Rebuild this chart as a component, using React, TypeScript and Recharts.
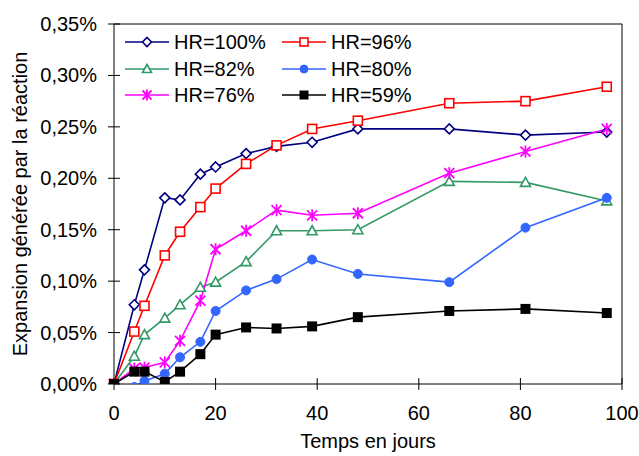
import React from "react"
import { LineChart, Line, XAxis, YAxis, ReferenceLine } from "recharts"

const days = [0, 4, 6, 10, 13, 17, 20, 26, 32, 39, 48, 66, 81, 97]

const hr100 = [0, 0.077, 0.111, 0.181, 0.179, 0.204, 0.211, 0.224, 0.231, 0.235, 0.248, 0.248, 0.242, 0.245]
const hr96 = [0, 0.051, 0.076, 0.125, 0.148, 0.172, 0.19, 0.214, 0.232, 0.248, 0.256, 0.273, 0.275, 0.289]
const hr82 = [0, 0.027, 0.048, 0.064, 0.077, 0.094, 0.099, 0.119, 0.149, 0.149, 0.15, 0.197, 0.196, 0.178]
const hr80 = [0, -0.003, 0.003, 0.01, 0.026, 0.041, 0.071, 0.091, 0.102, 0.121, 0.107, 0.099, 0.152, 0.181]
const hr76 = [0, 0.015, 0.016, 0.021, 0.042, 0.081, 0.131, 0.149, 0.169, 0.164, 0.166, 0.205, 0.226, 0.248]
const hr59 = [0, 0.012, 0.012, 0.002, 0.012, 0.029, 0.048, 0.055, 0.054, 0.056, 0.065, 0.071, 0.073, 0.069]

const xTicks = [0, 20, 40, 60, 80, 100]
const yTicks = [0, 0.05, 0.1, 0.15, 0.2, 0.25, 0.3, 0.35]

type MarkerKind = "diamond" | "square" | "triangle" | "circle" | "star" | "block"

const series: { key: string; name: string; color: string; marker: MarkerKind; values: number[] }[] = [
  { key: "hr100", name: "HR=100%", color: "#000080", marker: "diamond", values: hr100 },
  { key: "hr96", name: "HR=96%", color: "#ff0000", marker: "square", values: hr96 },
  { key: "hr82", name: "HR=82%", color: "#339966", marker: "triangle", values: hr82 },
  { key: "hr80", name: "HR=80%", color: "#3366ff", marker: "circle", values: hr80 },
  { key: "hr76", name: "HR=76%", color: "#ff00ff", marker: "star", values: hr76 },
  { key: "hr59", name: "HR=59%", color: "#000000", marker: "block", values: hr59 },
]

const data = days.map((day, i) => {
  const row: Record<string, number> = { day }
  series.forEach((s) => {
    row[s.key] = s.values[i]
  })
  return row
})

const FONT = "'Liberation Sans', Arial, sans-serif"

function Marker({ kind, cx, cy, color, s = 5 }: { kind: MarkerKind; cx: number; cy: number; color: string; s?: number }) {
  switch (kind) {
    case "diamond":
      return (
        <polygon
          points={`${cx},${cy - s} ${cx + s},${cy} ${cx},${cy + s} ${cx - s},${cy}`}
          fill="#fff"
          stroke={color}
          strokeWidth={1.6}
        />
      )
    case "square":
      return <rect x={cx - s + 0.5} y={cy - s + 0.5} width={2 * s - 1} height={2 * s - 1} fill="#fff" stroke={color} strokeWidth={1.6} />
    case "triangle":
      return (
        <polygon
          points={`${cx},${cy - s} ${cx + s},${cy + s - 1} ${cx - s},${cy + s - 1}`}
          fill="#fff"
          stroke={color}
          strokeWidth={1.6}
        />
      )
    case "circle":
      return <circle cx={cx} cy={cy} r={s - 0.5} fill={color} stroke={color} strokeWidth={1} />
    case "star":
      return (
        <g stroke={color} strokeWidth={1.8}>
          <line x1={cx} y1={cy - s - 1} x2={cx} y2={cy + s + 1} />
          <line x1={cx - s} y1={cy - s} x2={cx + s} y2={cy + s} />
          <line x1={cx - s} y1={cy + s} x2={cx + s} y2={cy - s} />
        </g>
      )
    default:
      return <rect x={cx - s} y={cy - s} width={2 * s} height={2 * s} fill={color} />
  }
}

const pct = (v: number) => v.toFixed(2).replace(".", ",") + "%"

// ticks cross the axis line, as in the spreadsheet style
const XTick = (props: any) => {
  const { x, y, payload } = props
  return (
    <g>
      <line x1={x} x2={x} y1={y - 12} y2={y} stroke="#000" strokeWidth={1} />
      <text x={x} y={y + 30} textAnchor="middle" fontSize={20} fontFamily={FONT} fill="#000">
        {payload.value}
      </text>
    </g>
  )
}

const YTick = (props: any) => {
  const { x, y, payload } = props
  return (
    <g>
      <line x1={x} x2={x + 12} y1={y} y2={y} stroke="#000" strokeWidth={1} />
      <text x={x - 11} y={y + 7} textAnchor="end" fontSize={20} fontFamily={FONT} fill="#000">
        {pct(payload.value)}
      </text>
    </g>
  )
}

const XTitle = (props: any) => {
  const { viewBox } = props
  return (
    <text x={viewBox.x + viewBox.width / 2} y={viewBox.y + 64} textAnchor="middle" fontSize={20} fontFamily={FONT} fill="#000">
      Temps en jours
    </text>
  )
}

const YTitle = (props: any) => {
  const { viewBox } = props
  const cx = 27
  const cy = viewBox.y + viewBox.height / 2
  return (
    <text x={cx} y={cy} transform={`rotate(-90 ${cx} ${cy})`} textAnchor="middle" fontSize={20} fontFamily={FONT} fill="#000">
      Expansion générée par la réaction
    </text>
  )
}

function LegendBox() {
  const cols = [125, 282]
  const rows = [42, 69, 95]
  return (
    <svg width={639} height={456} style={{ position: "absolute", left: 0, top: 0, pointerEvents: "none" }}>
      {series.map((s, i) => {
        const x = cols[i % 2]
        const y = rows[Math.floor(i / 2)]
        return (
          <g key={s.key}>
            <line x1={x} x2={x + 44} y1={y} y2={y} stroke={s.color} strokeWidth={1.6} />
            <Marker kind={s.marker} cx={x + 22} cy={y} color={s.color} s={4.5} />
            <text x={x + 49} y={y + 7} fontSize={20} fontFamily={FONT} fill="#000">
              {s.name}
            </text>
          </g>
        )
      })}
    </svg>
  )
}

export default function App() {
  return (
    <div style={{ position: "absolute", left: 0, top: 0, width: 639, height: 456, background: "#fff" }}>
      <LineChart width={639} height={456} data={data} margin={{ top: 24, right: 17, bottom: 0, left: 0 }}>
        <XAxis
          type="number"
          dataKey="day"
          domain={[0, 100]}
          ticks={xTicks}
          height={72}
          tickSize={6}
          tickMargin={0}
          tickLine={false}
          axisLine={{ stroke: "#000" }}
          tick={<XTick />}
          label={<XTitle />}
        />
        <YAxis
          type="number"
          domain={[0, 0.35]}
          allowDataOverflow
          ticks={yTicks}
          width={114}
          tickSize={6}
          tickMargin={0}
          tickLine={false}
          axisLine={{ stroke: "#000" }}
          tick={<YTick />}
          label={<YTitle />}
        />
        <ReferenceLine y={0.35} stroke="#000" />
        <ReferenceLine x={100} stroke="#000" />
        {series.map((s) => (
          <Line
            key={s.key}
            dataKey={s.key}
            name={s.name}
            stroke={s.color}
            strokeWidth={1.6}
            isAnimationActive={false}
            dot={(p: any) => <Marker key={`${s.key}-${p.index}`} kind={s.marker} cx={p.cx} cy={p.cy} color={s.color} />}
            activeDot={false}
          />
        ))}
      </LineChart>
      <LegendBox />
    </div>
  )
}
